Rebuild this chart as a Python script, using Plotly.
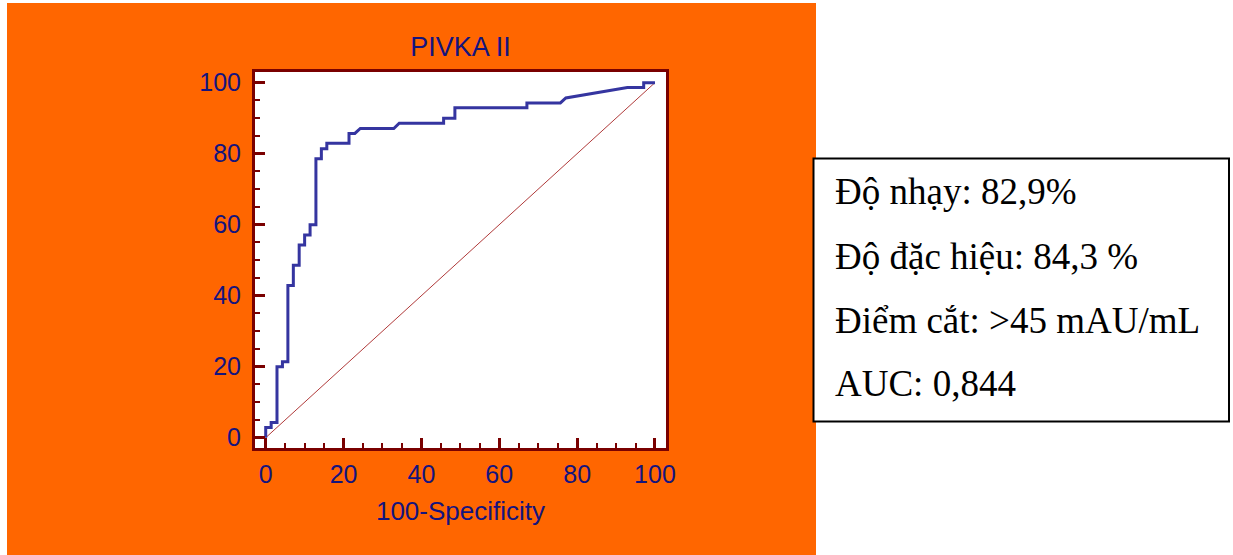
import plotly.graph_objects as go

# ROC curve for PIVKA II (step coordinates, in percent)
fpr = [0, 0, 1.4, 1.4, 2.9, 2.9, 4.3, 4.3, 5.7, 5.7, 7.1, 7.1, 8.6, 8.6, 10.0, 10.0,
       11.4, 11.4, 12.9, 12.9, 14.3, 14.3, 15.7, 15.7, 21.4, 21.4, 22.9, 24.3, 32.9,
       34.3, 45.7, 45.7, 48.6, 48.6, 67.1, 67.1, 75.7, 77.1, 92.9, 97.1, 97.1, 100]
tpr = [0, 2.9, 2.9, 4.3, 4.3, 20.0, 20.0, 21.4, 21.4, 42.9, 42.9, 48.6, 48.6, 54.3, 54.3, 57.1,
       57.1, 60.0, 60.0, 78.6, 78.6, 81.4, 81.4, 82.9, 82.9, 85.7, 85.7, 87.1, 87.1,
       88.6, 88.6, 90.0, 90.0, 92.9, 92.9, 94.3, 94.3, 95.7, 98.6, 98.6, 100, 100]
diag = [0, 100]

chart_title = "PIVKA II"
x_title = "100-Specificity"
tick_vals = [0, 20, 40, 60, 80, 100]
info_lines = [
    "Độ nhạy: 82,9%",
    "Độ đặc hiệu: 84,3 %",
    "Điểm cắt: >45 mAU/mL",
    "AUC: 0,844",
]

W, H = 1233, 555
ML, MR, MT, MB = 255, 567, 72, 107
PW, PH = W - ML - MR, H - MT - MB

ORANGE = "#FF6600"
NAVY = "#14147e"
FRAME = "#7a0000"
CURVE = "#3535a0"


def px(x):
    return (x - ML) / PW


def py(y):
    return (H - MB - y) / PH


fig = go.Figure()
fig.add_trace(go.Scatter(x=diag, y=diag, mode="lines",
                         line=dict(color="#b03a3a", width=1), hoverinfo="skip"))
fig.add_trace(go.Scatter(x=fpr, y=tpr, mode="lines",
                         line=dict(color=CURVE, width=3)))

axis_common = dict(
    showgrid=False, zeroline=False, showline=True, linewidth=3, linecolor=FRAME,
    mirror=True, ticks="inside", ticklen=10, tickwidth=3, tickcolor=FRAME,
    tickvals=tick_vals, tickfont=dict(family="Liberation Sans, Arial", size=25, color=NAVY),
    minor=dict(dtick=5, ticks="inside", ticklen=5, tickwidth=2, tickcolor=FRAME),
)
fig.update_xaxes(range=[-2.75, 102.83], **axis_common, ticklabelstandoff=2,
                 title=dict(text=x_title, standoff=15,
                            font=dict(family="Liberation Sans, Arial", size=26, color=NAVY)))
fig.update_yaxes(range=[-2.9, 103.0], **axis_common, ticklabelstandoff=6)

shapes = [
    # white page outside the orange panel
    dict(type="rect", xref="paper", yref="paper", x0=px(816), x1=px(W + 5), y0=py(H + 5), y1=py(-5),
         fillcolor="white", line=dict(width=0), layer="above"),
    dict(type="rect", xref="paper", yref="paper", x0=px(-5), x1=px(7), y0=py(H + 5), y1=py(-5),
         fillcolor="white", line=dict(width=0), layer="above"),
    dict(type="rect", xref="paper", yref="paper", x0=px(-5), x1=px(816), y0=py(3), y1=py(-5),
         fillcolor="white", line=dict(width=0), layer="above"),
    # information box
    dict(type="rect", xref="paper", yref="paper", x0=px(813.5), x1=px(1229), y0=py(421.5), y1=py(158.5),
         fillcolor="white", line=dict(color="black", width=2), layer="above"),
]

annotations = []
baselines = [203, 268, 332, 395]
for txt, b in zip(info_lines, baselines):
    annotations.append(dict(
        text=txt, xref="paper", yref="paper", x=px(833), y=py(b - 12),
        xanchor="left", yanchor="middle", showarrow=False,
        font=dict(family="Liberation Serif, Times New Roman", size=37, color="black")))

fig.update_layout(
    width=W, height=H,
    margin=dict(l=ML, r=MR, t=MT, b=MB, pad=0),
    paper_bgcolor=ORANGE, plot_bgcolor="white",
    showlegend=False,
    title=dict(text=chart_title, x=px(460.5), xanchor="center", xref="paper",
               y=1 - 47 / H, yref="container", yanchor="middle",
               font=dict(family="Liberation Sans, Arial", size=27, color=NAVY)),
    shapes=shapes, annotations=annotations,
)

fig.write_html("out.html")
